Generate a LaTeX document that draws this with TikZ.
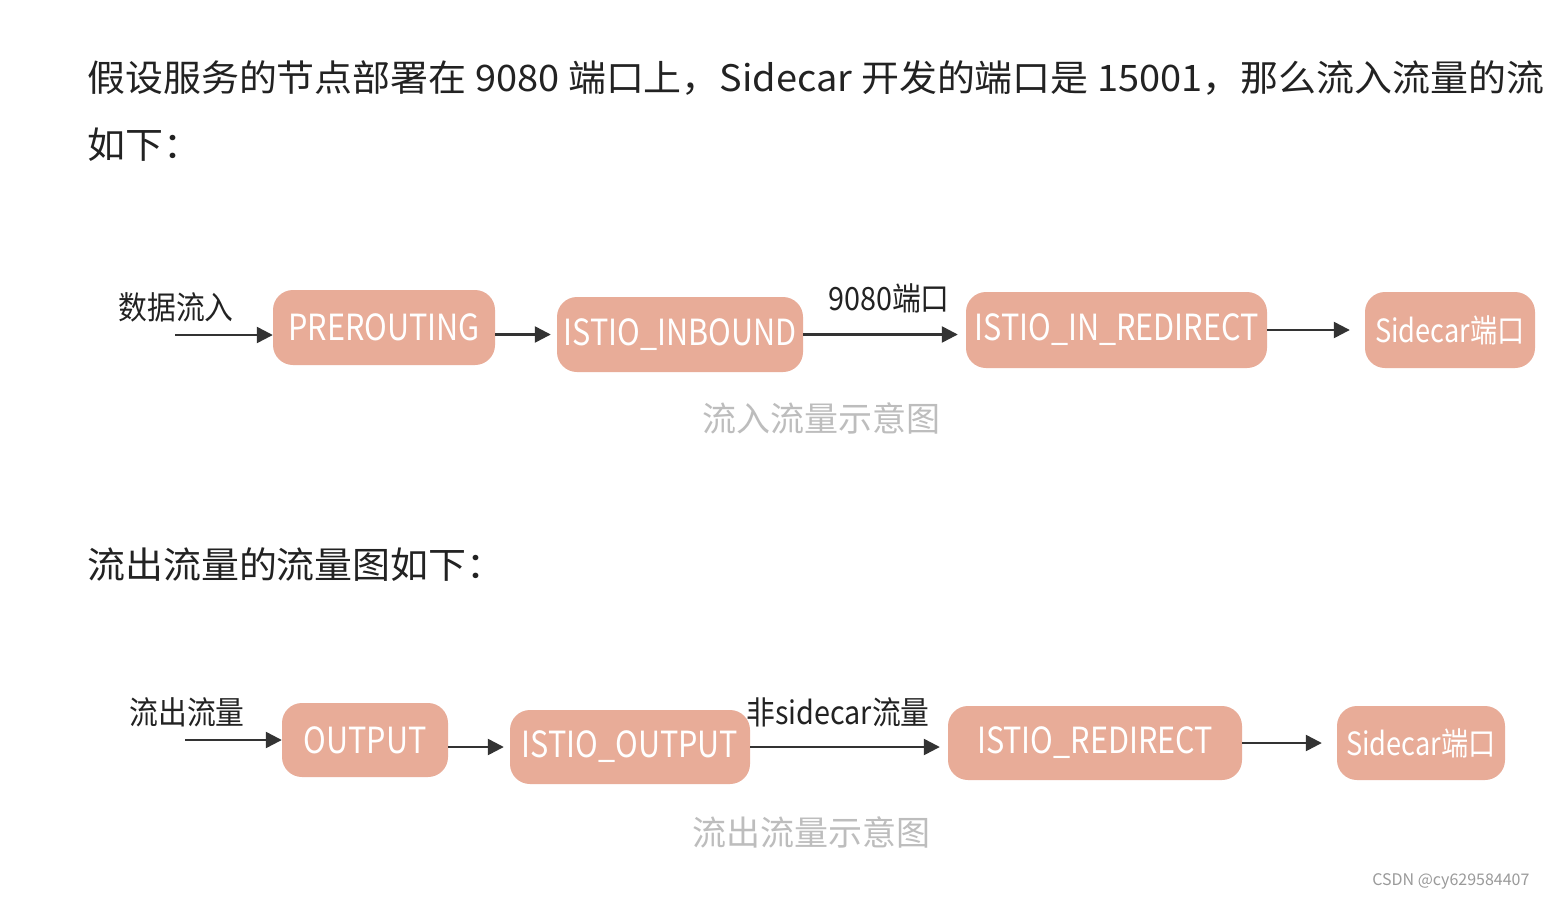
\documentclass[tikz,border=0pt]{standalone}
\usepackage{fontspec}
\setmainfont{Noto Sans CJK SC}
\newfontfamily\boxfont[FakeStretch=0.85]{Noto Sans CJK SC}
\newfontfamily\handfont[FakeStretch=0.9]{Noto Sans CJK SC}
\newfontfamily\bodyfont[FakeStretch=1.04]{Noto Sans CJK SC}
\usetikzlibrary{arrows.meta,positioning,calc}
\definecolor{fsalmon}{HTML}{E8AC98}
\definecolor{fink}{HTML}{333333}
\definecolor{ftext}{HTML}{222222}
\definecolor{fcap}{HTML}{BDBDBD}
\definecolor{fmark}{HTML}{9A9A9A}
\tikzset{
  chain/.style={draw=none,fill=fsalmon,rounded corners=20pt,text=white,
    font=\boxfont\fontsize{36}{40}\selectfont,inner sep=0pt},
  flow/.style={-{Triangle[length=16pt,width=16pt]},line width=2.4pt,draw=fink,shorten >=6pt},
  hand/.style={text=ftext,font=\handfont\fontsize{32}{36}\selectfont},
  caption/.style={text=fcap,font=\fontsize{34}{38}\selectfont},
  body/.style={anchor=base west,text=ftext,font=\bodyfont\fontsize{36.5}{44}\selectfont,inner sep=0pt}
}

\begin{document}
\begin{tikzpicture}[x=1pt,y=-1pt]
\useasboundingbox[fill=white] (0,0) rectangle (1548,900);
% running text
\node[body] (l1) at (87,91)
  {假设服务的节点部署在 9080 端口上，Sidecar 开发的端口是 15001，那么流入流量的流};
\node[body] (l2) at (87,158) {如下：};
\node[body] (l3) at (87,578) {流出流量的流量图如下：};
% inbound chain
\node[chain,minimum width=222pt,minimum height=75pt] (pre) at (384,327.5) {PREROUTING};
\node[chain,minimum width=246pt,minimum height=75pt] (inb) at (680,334.5) {ISTIO\_INBOUND};
\node[chain,minimum width=301pt,minimum height=76pt] (ird) at (1116.5,330) {ISTIO\_IN\_REDIRECT};
\node[chain,minimum width=170pt,minimum height=76pt,font=\boxfont\fontsize{32}{36}\selectfont] (sc1) at (1450,330) {Sidecar端口};
\coordinate (in1) at (175,335);
\node[hand] (lin) at (176,307) {数据流入};
\node[hand] (lport) at (889,298) {9080端口};
\draw[flow,shorten >=0pt] (in1) -- (in1 -| pre.west);
\draw[flow] (pre.east |- inb.west) -- (inb.west);
\draw[flow,shorten >=8pt] (inb.east) -- (inb.east -| ird.west);
\draw[flow,shorten >=15pt] (ird.east) -- (sc1.west);
\node[caption] (cap1) at (821,418) {流入流量示意图};
% outbound chain
\node[chain,minimum width=166pt,minimum height=74pt] (out) at (365,740) {OUTPUT};
\node[chain,minimum width=240pt,minimum height=74pt] (iop) at (630,747) {ISTIO\_OUTPUT};
\node[chain,minimum width=294pt,minimum height=74pt] (ire) at (1095,743) {ISTIO\_REDIRECT};
\node[chain,minimum width=168pt,minimum height=74pt,font=\boxfont\fontsize{32}{36}\selectfont] (sc2) at (1421,743) {Sidecar端口};
\coordinate (in2) at (185,740);
\node[hand] (lout) at (187,712) {流出流量};
\node[hand] (lnon) at (838,712) {非sidecar流量};
\draw[flow,shorten >=0pt] (in2) -- (in2 -| out.west);
\draw[flow] (out.east |- iop.west) -- (iop.west);
\draw[flow,shorten >=8pt] (iop.east) -- (iop.east -| ire.west);
\draw[flow,shorten >=15pt] (ire.east) -- (sc2.west);
\node[caption] (cap2) at (811,832) {流出流量示意图};
\node[text=fmark,font=\fontsize{16}{18}\selectfont,anchor=east] (mark) at (1533,881) {CSDN @cy629584407};
\end{tikzpicture}
\end{document}
